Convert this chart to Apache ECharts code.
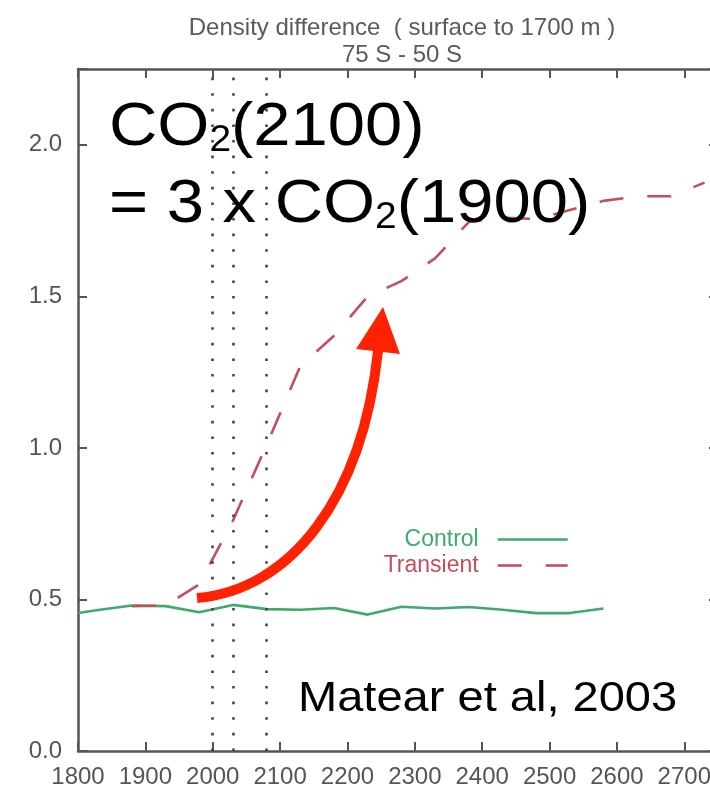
<!DOCTYPE html>
<html><head><meta charset="utf-8">
<script src="https://cdn.jsdelivr.net/npm/echarts@6/dist/echarts.min.js"></script>
<style>html,body{margin:0;padding:0;background:#fff}#c{width:710px;height:786px}</style>
</head><body><div id="c"></div>
<script>
// ---- data ----
const titleLines = ['Density difference  ( surface to 1700 m )', '75 S - 50 S'];
const seriesNames = ['Control', 'Transient'];
const controlYears  = [1800, 1830, 1880, 1930, 1980, 2030, 2080, 2130, 2180, 2230, 2280, 2330, 2380, 2430, 2480, 2530, 2580];
const controlValues = [0.455, 0.465, 0.48, 0.478, 0.458, 0.482, 0.468, 0.466, 0.472, 0.45, 0.476, 0.47, 0.475, 0.466, 0.455, 0.455, 0.47];
const transientYears  = [1880, 1930, 1980, 2030, 2080, 2130, 2180, 2230, 2280, 2330, 2380, 2430, 2480, 2530, 2580, 2630, 2680, 2730];
const transientValues = [0.478, 0.48, 0.55, 0.76, 1.01, 1.27, 1.37, 1.50, 1.55, 1.625, 1.745, 1.76, 1.755, 1.785, 1.815, 1.83, 1.83, 1.875];
const markerYears = [2000, 2030, 2080];
const annotationLines = [['CO', '2', '(2100)'], ['= 3 x CO', '2', '(1900)']];
const citation = 'Matear et al, 2003';

// ---- styles ----
const GREEN = '#3eaa6c', RED = '#c0505c', GRAY = '#555555', ARROW = '#ff2200';
const FONT = 'Liberation Sans, Arial, sans-serif';

const zip = (xs, ys) => xs.map((x, i) => [x, ys[i]]);
const chart = echarts.init(document.getElementById('c'), null, { renderer: 'canvas' });

function axisCommon() {
  return {
    axisLine: { show: true, onZero: false, lineStyle: { color: GRAY, width: 2.5 } },
    axisTick: { show: true, inside: true, length: 9, lineStyle: { color: GRAY, width: 2 } },
    splitLine: { show: false }
  };
}

const richMain = { fontSize: 62, lineHeight: 62, fontFamily: FONT, color: '#000' };
const richSub = { fontSize: 36, lineHeight: 36, fontFamily: FONT, color: '#000', verticalAlign: 'bottom' };
function coText(parts) { return '{m|' + parts[0] + '}{s|' + parts[1] + '}{m|' + parts[2] + '}'; }

chart.setOption({
  animation: false,
  backgroundColor: '#fff',
  title: {
    text: titleLines.join('\n'), left: 402, top: 15, textAlign: 'center', padding: 0,
    textStyle: { fontSize: 24, lineHeight: 27, fontWeight: 'normal', color: '#5a5a5a', fontFamily: FONT }
  },
  grid: { left: 78, top: 69, width: 640, height: 682, containLabel: false, outerBoundsMode: 'none' },
  legend: {
    orient: 'vertical', align: 'right', right: 141, top: 528, padding: 0, itemGap: 3,
    itemWidth: 70, itemHeight: 14,
    lineStyle: { width: 2.6 },
    itemStyle: { opacity: 0, color: 'rgba(0,0,0,0)', borderWidth: 0 },
    textStyle: { fontSize: 23, lineHeight: 23, fontFamily: FONT, padding: [0, 14, 0, 0] },
    data: [
      { name: seriesNames[0], textStyle: { color: GREEN } },
      { name: seriesNames[1], textStyle: { color: RED } }
    ]
  },
  xAxis: [
    Object.assign({ type: 'value', min: 1800, max: 2750, interval: 100, position: 'bottom',
      axisLabel: { show: true, fontSize: 24, color: GRAY, fontFamily: FONT, margin: 14,
        formatter: v => (v % 100 === 0 ? String(v) : '') } }, axisCommon()),
    Object.assign({ type: 'value', min: 1800, max: 2750, interval: 100, position: 'top',
      axisLabel: { show: false } }, axisCommon())
  ],
  yAxis: [
    Object.assign({ type: 'value', min: 0, max: 2.25, interval: 0.5, position: 'left',
      axisLabel: { show: true, fontSize: 24, color: GRAY, fontFamily: FONT, margin: 16,
        formatter: v => (Math.abs(v * 2 - Math.round(v * 2)) < 1e-9 ? v.toFixed(1) : '') } }, axisCommon()),
    Object.assign({ type: 'value', min: 0, max: 2.25, interval: 0.5, position: 'right',
      axisLabel: { show: false } }, axisCommon())
  ],
  series: [
    {
      name: seriesNames[0], type: 'line', xAxisIndex: 0, yAxisIndex: 0,
      data: zip(controlYears, controlValues), symbol: 'none',
      lineStyle: { color: GREEN, width: 2.6 }, itemStyle: { color: GREEN }, z: 3,
      markLine: {
        silent: true, symbol: ['none', 'none'], label: { show: false },
        lineStyle: { color: '#444', width: 2.6, type: [2.6, 13] },
        emphasis: { disabled: true },
        data: markerYears.map(y => ({ xAxis: y }))
      }
    },
    {
      name: seriesNames[1], type: 'line', xAxisIndex: 0, yAxisIndex: 0,
      data: zip(transientYears, transientValues), symbol: 'none',
      lineStyle: { color: RED, width: 2.6, type: [24, 24] }, itemStyle: { color: RED }, z: 4
    }
  ],
  graphic: [
    { type: 'text', x: 109, y: 128, scaleX: 1.08, z: 100,
      style: { text: coText(annotationLines[0]), verticalAlign: 'middle', align: 'left',
        rich: { m: richMain, s: richSub } } },
    { type: 'text', x: 109, y: 205, scaleX: 1.08, z: 100,
      style: { text: coText(annotationLines[1]), verticalAlign: 'middle', align: 'left',
        rich: { m: richMain, s: richSub } } },
    { type: 'text', x: 298, y: 699, scaleX: 1.12, z: 100,
      style: { text: citation, verticalAlign: 'middle', align: 'left',
        fontSize: 42, fontFamily: FONT, fill: '#000' } },
    { type: 'bezierCurve', z: 100,
      shape: { x1: 197, y1: 598, cpx1: 290, cpy1: 590, cpx2: 362, cpy2: 500, x2: 378, y2: 351 },
      style: { stroke: ARROW, lineWidth: 10, fill: null, lineCap: 'butt' } },
    { type: 'polygon', z: 100,
      shape: { points: [[383, 307], [356, 349], [400, 354]] },
      style: { fill: ARROW } }
  ]
});
</script></body></html>
